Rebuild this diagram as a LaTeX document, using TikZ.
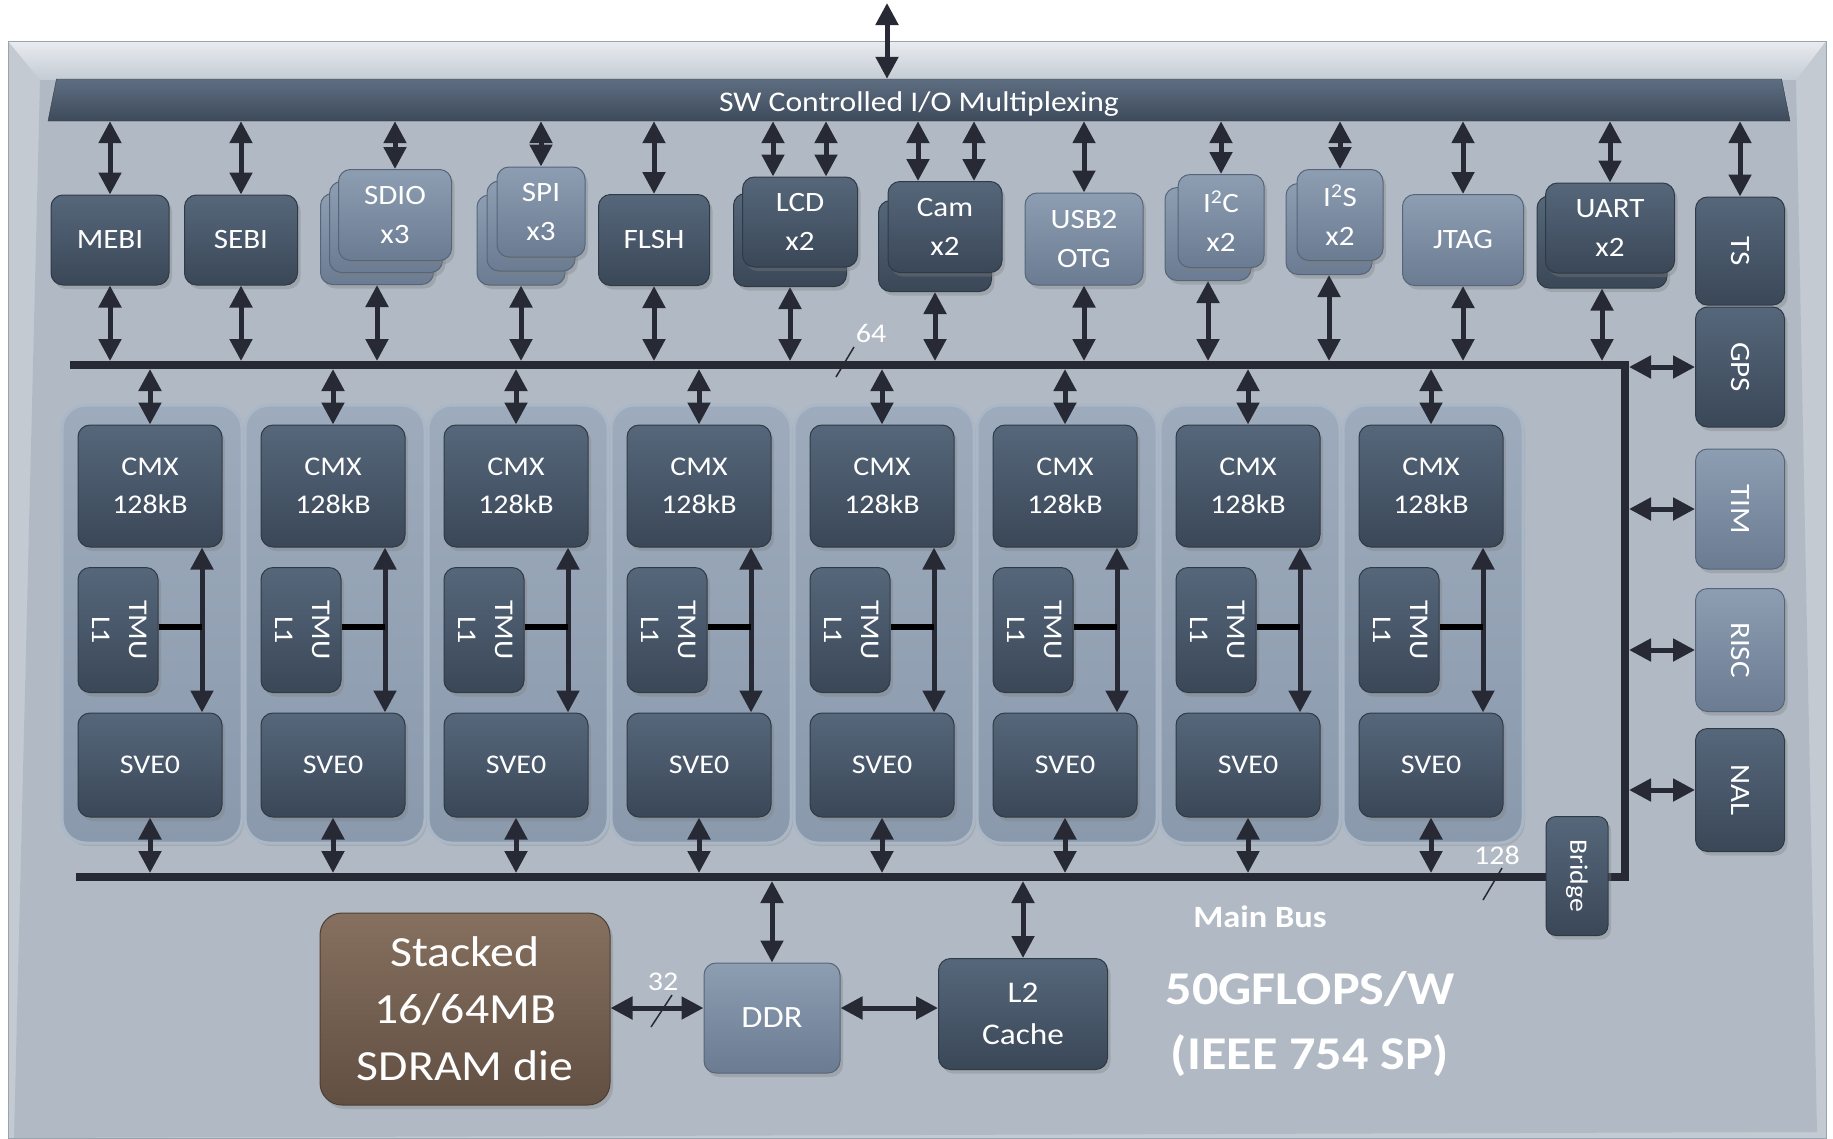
\documentclass[tikz,border=0pt]{standalone}
\usepackage{fontspec}
\setmainfont{Carlito}[FakeStretch=1.11]
\usepackage{xcolor}
\usepackage{graphicx}
\usepackage{tikz}
\usetikzlibrary{positioning,arrows.meta,shapes.geometric,shadows}

\definecolor{facegray}{HTML}{B1BAC4}
\definecolor{bevelside}{HTML}{C3CAD2}
\definecolor{bevellight}{HTML}{E9ECF0}
\definecolor{bevelmid}{HTML}{C4CBD3}
\definecolor{frameedge}{HTML}{9AA4AE}
\definecolor{darktop}{HTML}{56677B}
\definecolor{darkbot}{HTML}{3A4757}
\definecolor{darkedge}{HTML}{2F3A47}
\definecolor{lighttop}{HTML}{8D9DB2}
\definecolor{lightbot}{HTML}{6B7B91}
\definecolor{lightedge}{HTML}{56657A}
\definecolor{browntop}{HTML}{86705F}
\definecolor{brownbot}{HTML}{614F42}
\definecolor{brownedge}{HTML}{4E3F34}
\definecolor{coretop}{HTML}{9DABBC}
\definecolor{corebot}{HTML}{8A99AC}
\definecolor{coreedge}{HTML}{AAB7C6}
\definecolor{bartop}{HTML}{5E6E82}
\definecolor{barbot}{HTML}{3D4A5A}
\definecolor{arrowink}{HTML}{272A35}

\begin{document}
\begin{tikzpicture}[
x=1pt, y=-1pt,
every node/.style={text=white, align=center, inner sep=0pt},
wh/.style 2 args={minimum width=#1pt, minimum height=#2pt},
ipbox/.style={
    rounded corners=12pt,
    line width=1pt,
    drop shadow={shadow xshift=3pt, shadow yshift=-4pt, opacity=0.35},
    font=\fontsize{28}{39}\selectfont
},
darkbox/.style={ipbox, draw=darkedge, top color=darktop, bottom color=darkbot},
lightbox/.style={ipbox, draw=lightedge, top color=lighttop, bottom color=lightbot},
brownbox/.style={ipbox, rounded corners=22pt, draw=brownedge, top color=browntop, bottom color=brownbot,
    font=\fontsize{43}{57}\selectfont},
corebox/.style={
    rounded corners=24pt,
    line width=3pt,
    draw=coreedge,
    top color=coretop,
    bottom color=corebot,
    drop shadow={shadow xshift=2pt, shadow yshift=-3pt, opacity=0.25},
    wh={180}{438}
},
arrow/.style={<->, >={Triangle[width=22pt,length=22pt]}, line width=5pt, draw=arrowink},
bus/.style={line width=8pt, draw=arrowink, line join=miter},
tmuline/.style={line width=6pt, draw=black},
busnum/.style={font=\fontsize{27}{30}\selectfont},
slash/.style={line width=1.5pt, draw=arrowink}
]

% chip frame
\useasboundingbox (0,0) rectangle (1833,1138);
\fill[white] (0,0) rectangle (1833,1138);
\fill[bevelside] (8,41) rectangle (1826,1138);
\shade[top color=bevellight, bottom color=bevelmid] (8,41) -- (1826,41) -- (1796,80) -- (40,80) -- cycle;
\fill[facegray] (40,80) -- (1796,80) -- (1817,1132) -- (14,1138) -- cycle;
\draw[frameedge, line width=1pt] (8,41) rectangle (1826,1138);

% I/O multiplexing bar
\node[trapezium, trapezium angle=76, trapezium stretches body, wh={1742}{42},
    text height=28pt, text depth=6pt,
    draw=darkedge, top color=bartop, bottom color=barbot,
    font=\fontsize{28.5}{32}\selectfont] (swbar) at (919,100) {SW Controlled I/O Multiplexing};
\coordinate (io) at (887,3);
\draw[arrow] (io) -- (io |- swbar.north);

% peripherals
\node[darkbox, wh={118}{90}] (mebi) at (110,240) {MEBI};
\node[darkbox, wh={113}{90}] (sebi) at (241,240) {SEBI};
\node[lightbox, wh={113}{91}] (sdioC) at (377,239) {};
\node[lightbox, wh={113}{91}] (sdioB) at (386,227) {};
\node[lightbox, wh={113}{91}] (sdio) at (395,215) {SDIO\\x3};
\node[lightbox, wh={88}{90}] (spiC) at (521,240) {};
\node[lightbox, wh={88}{90}] (spiB) at (531,226) {};
\node[lightbox, wh={88}{90}] (spi) at (541,212) {SPI\\x3};
\node[darkbox, wh={111}{91}] (flsh) at (654,240) {FLSH};
\node[darkbox, wh={113}{93}] (lcdB) at (790,240) {};
\node[darkbox, wh={115}{90}] (lcd) at (800,222) {LCD\\x2};
\node[darkbox, wh={113}{91}] (camB) at (935,246) {};
\node[darkbox, wh={114}{91}] (cam) at (945,227) {Cam\\x2};
\node[lightbox, wh={118}{92}] (usb) at (1084,239) {USB2\\OTG};
\node[lightbox, wh={86}{93}] (i2cB) at (1208,234) {};
\node[lightbox, wh={86}{93}] (i2c) at (1221,221) {I\textsuperscript{2}C\\x2};
\node[lightbox, wh={86}{91}] (i2sB) at (1329,229) {};
\node[lightbox, wh={86}{91}] (i2s) at (1340,215) {I\textsuperscript{2}S\\x2};
\node[lightbox, wh={121}{91}] (jtag) at (1463,240) {JTAG};
\node[darkbox, wh={130}{92}] (uartB) at (1602,242) {};
\node[darkbox, wh={129}{90}] (uart) at (1610,228) {UART\\x2};

\node[darkbox, wh={89}{108}] (ts) at (1740,251) {\rotatebox{-90}{TS}};
\node[darkbox, wh={89}{120}] (gps) at (1740,367) {\rotatebox{-90}{GPS}};
\node[lightbox, wh={89}{120}] (tim) at (1740,509) {\rotatebox{-90}{TIM}};
\node[lightbox, wh={89}{123}] (risc) at (1740,650) {\rotatebox{-90}{RISC}};
\node[darkbox, wh={89}{123}] (nal) at (1740,790) {\rotatebox{-90}{NAL}};

\coordinate (lcdL) at (773,0);
\coordinate (lcdR) at (826,0);
\coordinate (camL) at (918,0);
\coordinate (camR) at (974,0);

\draw[arrow] (mebi |- swbar.south) -- (mebi.north);
\draw[arrow] (sebi |- swbar.south) -- (sebi.north);
\draw[arrow] (sdio |- swbar.south) -- (sdio.north);
\draw[arrow] (spi |- swbar.south) -- (spi.north);
\draw[arrow] (flsh |- swbar.south) -- (flsh.north);
\draw[arrow] (lcdL |- swbar.south) -- (lcdL |- lcd.north);
\draw[arrow] (lcdR |- swbar.south) -- (lcdR |- lcd.north);
\draw[arrow] (camL |- swbar.south) -- (camL |- cam.north);
\draw[arrow] (camR |- swbar.south) -- (camR |- cam.north);
\draw[arrow] (usb |- swbar.south) -- (usb.north);
\draw[arrow] (i2c |- swbar.south) -- (i2c.north);
\draw[arrow] (i2s |- swbar.south) -- (i2s.north);
\draw[arrow] (jtag |- swbar.south) -- (jtag.north);
\draw[arrow] (uart |- swbar.south) -- (uart.north);
\draw[arrow] (ts |- swbar.south) -- (ts.north);

% buses
\coordinate (b64n) at (0,361);
\coordinate (b64s) at (0,369);
\coordinate (mbn) at (0,873);
\coordinate (mbs) at (0,881);
\coordinate (vbus) at (1629,0);
\draw[bus] (70,365) -- (1625,365) -- (1625,877) -- (76,877);

\draw[arrow] (mebi.south) -- (mebi.south |- b64n);
\draw[arrow] (sebi.south) -- (sebi.south |- b64n);
\draw[arrow] (sdioC.south) -- (sdioC.south |- b64n);
\draw[arrow] (spiC.south) -- (spiC.south |- b64n);
\draw[arrow] (flsh.south) -- (flsh.south |- b64n);
\draw[arrow] (lcdB.south) -- (lcdB.south |- b64n);
\draw[arrow] (camB.south) -- (camB.south |- b64n);
\draw[arrow] (usb.south) -- (usb.south |- b64n);
\draw[arrow] (i2cB.south) -- (i2cB.south |- b64n);
\draw[arrow] (i2sB.south) -- (i2sB.south |- b64n);
\draw[arrow] (jtag.south) -- (jtag.south |- b64n);
\draw[arrow] (uartB.south) -- (uartB.south |- b64n);

\draw[arrow] (vbus |- gps) -- (gps.west);
\draw[arrow] (vbus |- tim) -- (tim.west);
\draw[arrow] (vbus |- risc) -- (risc.west);
\draw[arrow] (vbus |- nal) -- (nal.west);

\node[busnum] (n64) at (871,333) {64};
\draw[slash] (836,377) -- (854,347);

% SHAVE slices
\foreach \i in {1,...,8}{
    \pgfmathsetmacro\cx{152+183*(\i-1)}
    \node[corebox] (core\i) at (\cx,624) {};
    \node[darkbox, wh={144}{122}, font=\fontsize{27}{38}\selectfont] (cmx\i) at (\cx-2,486) {CMX\\128kB};
    \node[darkbox, wh={80}{125}, font=\fontsize{27}{37}\selectfont] (tmu\i) at (\cx-34,630)
        {\rotatebox{-90}{\begin{tabular}{@{}c@{}}TMU\\L1\end{tabular}}};
    \node[darkbox, wh={144}{104}, font=\fontsize{27}{38}\selectfont] (sve\i) at (\cx-2,765) {SVE0};
    \coordinate (link\i) at (\cx+50,627);
    \draw[arrow] (cmx\i.north |- b64s) -- (cmx\i.north);
    \draw[arrow] (cmx\i.south -| link\i) -- (sve\i.north -| link\i);
    \draw[tmuline] (tmu\i.east |- link\i) -- (link\i);
    \draw[arrow] (sve\i.south) -- (sve\i.south |- mbn);
}

% main bus side
\node[darkbox, wh={62}{119}, rounded corners=10pt, font=\fontsize{25}{30}\selectfont] (bridge) at (1577,876) {\rotatebox{-90}{Bridge}};
\node[busnum] (n128) at (1497,855) {128};
\draw[slash] (1483,900) -- (1502,868);
\node[font=\bfseries\fontsize{31}{36}\selectfont] (mainbus) at (1260,917) {Main Bus};

\node[brownbox, wh={290}{192}] (sdram) at (465,1009) {Stacked\\16/64MB\\SDRAM die};
\node[lightbox, wh={136}{110}, font=\fontsize{31}{38}\selectfont] (ddr) at (772,1018) {DDR};
\node[darkbox, wh={169}{111}, font=\fontsize{30}{42}\selectfont] (l2) at (1023,1014) {L2\\Cache};

\draw[arrow] ([yshift=10pt]sdram.east |- ddr.west) -- ([yshift=10pt]ddr.west);
\draw[arrow] ([yshift=10pt]ddr.east) -- ([yshift=10pt]ddr.east -| l2.west);
\draw[arrow] (ddr.north |- mbs) -- (ddr.north);
\draw[arrow] (l2.north |- mbs) -- (l2.north);
\node[busnum] (n32) at (663,982) {32};
\draw[slash] (651,1027) -- (672,995);

\node[font=\bfseries\fontsize{47}{65}\selectfont] (perf) at (1310,1024) {50GFLOPS/W\\(IEEE 754 SP)};

\end{tikzpicture}
\end{document}
